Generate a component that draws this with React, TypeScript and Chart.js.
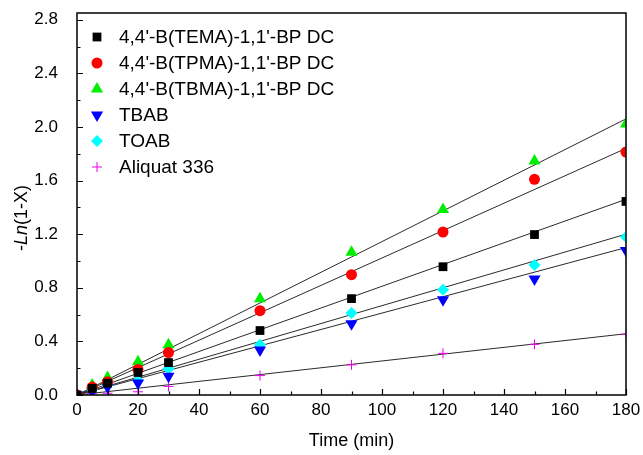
import React, { useEffect, useRef } from "react";
import { Chart, registerables } from "chart.js";

Chart.register(...registerables);

// ---- data ----
const times = [0, 5, 10, 20, 30, 60, 90, 120, 150, 180];
const temaValues = [0, 0.049, 0.088, 0.168, 0.242, 0.481, 0.719, 0.957, 1.197, 1.444];
const tpmaValues = [0, 0.059, 0.098, 0.191, 0.317, 0.629, 0.898, 1.216, 1.609, 1.813];
const tbmaValues = [0, 0.075, 0.131, 0.249, 0.375, 0.719, 1.065, 1.384, 1.746, 2.021];
const tbabValues = [0, 0.029, 0.059, 0.09, 0.139, 0.336, 0.531, 0.711, 0.865, 1.078];
const toabValues = [0, 0.039, 0.075, 0.107, 0.195, 0.375, 0.611, 0.785, 0.969, 1.178];
const aliquatValues = [0, 0.008, 0.013, 0.024, 0.064, 0.145, 0.225, 0.311, 0.378, 0.453];

const fitTimes = [0, 180];
const temaFit = [0, 1.46];
const tpmaFit = [0, 1.84];
const tbmaFit = [0, 2.06];
const tbabFit = [0, 1.1];
const toabFit = [0, 1.2];
const aliquatFit = [0, 0.457];

const seriesLabels = [
  "4,4'-B(TEMA)-1,1'-BP DC",
  "4,4'-B(TPMA)-1,1'-BP DC",
  "4,4'-B(TBMA)-1,1'-BP DC",
  "TBAB",
  "TOAB",
  "Aliquat 336",
];

const xMin = 0;
const xMax = 180;
const xLabelStep = 20;
const xMinorStep = 10;
const yMin = 0;
const yMax = 2.85;
const yLabelStep = 0.4;
const yMinorStep = 0.2;
const yTopTick = 2.8;

const xTitle = "Time (min)";
const yTitleParts = [
  { text: "-", italic: false },
  { text: "Ln", italic: true },
  { text: "(1-X)", italic: false },
];

const FONT = "'Liberation Sans', Arial, Helvetica, sans-serif";

type Style = { color: string; shape: string };
const styles: Style[] = [
  { color: "#000000", shape: "square" },
  { color: "#ff0000", shape: "circle" },
  { color: "#00ee00", shape: "triangle" },
  { color: "#0000ff", shape: "invtriangle" },
  { color: "#00ffff", shape: "diamond" },
  { color: "#ee00ee", shape: "plus" },
];

const pointCfg: Record<string, any> = {
  square: { pointStyle: "rect", pointRadius: 6.2, rotation: 0 },
  circle: { pointStyle: "circle", pointRadius: 5.5, rotation: 0 },
  triangle: { pointStyle: "triangle", pointRadius: 7, rotation: 0 },
  invtriangle: { pointStyle: "triangle", pointRadius: 7, rotation: 180 },
  diamond: { pointStyle: "rectRot", pointRadius: 6, rotation: 0 },
  plus: { pointStyle: "cross", pointRadius: 5, rotation: 0 },
};

function drawMarker(ctx: CanvasRenderingContext2D, shape: string, x: number, y: number, color: string) {
  ctx.save();
  ctx.fillStyle = color;
  ctx.strokeStyle = color;
  ctx.lineWidth = 1;
  ctx.beginPath();
  if (shape === "square") {
    ctx.rect(x - 4.4, y - 4.4, 8.8, 8.8);
    ctx.fill();
  } else if (shape === "circle") {
    ctx.arc(x, y, 5.5, 0, Math.PI * 2);
    ctx.fill();
  } else if (shape === "triangle") {
    ctx.moveTo(x, y - 7);
    ctx.lineTo(x + 6.1, y + 3.5);
    ctx.lineTo(x - 6.1, y + 3.5);
    ctx.closePath();
    ctx.fill();
  } else if (shape === "invtriangle") {
    ctx.moveTo(x, y + 7);
    ctx.lineTo(x + 6.1, y - 3.5);
    ctx.lineTo(x - 6.1, y - 3.5);
    ctx.closePath();
    ctx.fill();
  } else if (shape === "diamond") {
    ctx.moveTo(x, y - 6);
    ctx.lineTo(x + 6, y);
    ctx.lineTo(x, y + 6);
    ctx.lineTo(x - 6, y);
    ctx.closePath();
    ctx.fill();
  } else if (shape === "plus") {
    ctx.moveTo(x - 5, y);
    ctx.lineTo(x + 5, y);
    ctx.moveTo(x, y - 5);
    ctx.lineTo(x, y + 5);
    ctx.stroke();
  }
  ctx.restore();
}

const framePlugin = {
  id: "frameDecor",
  afterDraw(chart: any) {
    const ctx: CanvasRenderingContext2D = chart.ctx;
    const a = chart.chartArea;
    const xs = chart.scales.x;
    const ys = chart.scales.y;
    ctx.save();
    // frame
    ctx.strokeStyle = "#000";
    ctx.lineWidth = 1.5;
    ctx.strokeRect(a.left, a.top, a.right - a.left, a.bottom - a.top);
    // inward ticks
    ctx.lineWidth = 1.2;
    ctx.beginPath();
    for (let v = xMin; v <= xMax + 1e-9; v += xMinorStep) {
      const px = Math.round(xs.getPixelForValue(v)) + 0.5;
      const major = Math.abs(v / xLabelStep - Math.round(v / xLabelStep)) < 1e-6;
      const len = major ? 6 : 3.5;
      ctx.moveTo(px, a.bottom);
      ctx.lineTo(px, a.bottom - len);
    }
    for (let v = yMin; v <= yTopTick + 1e-9; v += yMinorStep) {
      const py = Math.round(ys.getPixelForValue(v)) + 0.5;
      const major = Math.abs(v / yLabelStep - Math.round(v / yLabelStep)) < 1e-6;
      const len = major ? 6 : 3.5;
      ctx.moveTo(a.left, py);
      ctx.lineTo(a.left + len, py);
    }
    ctx.stroke();

    // x title
    ctx.fillStyle = "#000";
    ctx.font = `18px ${FONT}`;
    ctx.textAlign = "center";
    ctx.textBaseline = "middle";
    ctx.fillText(xTitle, (a.left + a.right) / 2, 441);

    // y title with italic part
    ctx.save();
    ctx.translate(22, 218);
    ctx.rotate(-Math.PI / 2);
    ctx.textBaseline = "middle";
    ctx.textAlign = "left";
    let total = 0;
    const widths: number[] = [];
    for (const p of yTitleParts) {
      ctx.font = `${p.italic ? "italic " : ""}18px ${FONT}`;
      const w = ctx.measureText(p.text).width;
      widths.push(w);
      total += w;
    }
    let cx = -total / 2;
    yTitleParts.forEach((p, i) => {
      ctx.font = `${p.italic ? "italic " : ""}18px ${FONT}`;
      ctx.fillText(p.text, cx, 0);
      cx += widths[i];
    });
    ctx.restore();

    // legend
    ctx.font = `19px ${FONT}`;
    ctx.textAlign = "left";
    ctx.textBaseline = "middle";
    seriesLabels.forEach((lab, i) => {
      const py = 37 + i * 26;
      drawMarker(ctx, styles[i].shape, 97, py, styles[i].color);
      ctx.fillStyle = "#000";
      ctx.fillText(lab, 119, py + 1);
    });
    ctx.restore();
  },
};

function zeroPad(s: any) {
  s.paddingTop = 0;
  s.paddingBottom = 0;
  s.paddingLeft = 0;
  s.paddingRight = 0;
}

export default function App() {
  const ref = useRef<HTMLCanvasElement | null>(null);

  useEffect(() => {
    if (!ref.current) return;
    const seriesValues = [temaValues, tpmaValues, tbmaValues, tbabValues, toabValues, aliquatValues];
    const fitValues = [temaFit, tpmaFit, tbmaFit, tbabFit, toabFit, aliquatFit];

    const fitSets = fitValues.map((f, i) => ({
      label: seriesLabels[i] + " fit",
      data: fitTimes.map((t, j) => ({ x: t, y: f[j] })),
      showLine: true,
      borderColor: "#2a2a2a",
      borderWidth: 1,
      pointRadius: 0,
      pointHoverRadius: 0,
      order: 2,
    }));
    const pointSets = seriesValues.map((vals, i) => {
      const cfg = pointCfg[styles[i].shape];
      const isPlus = styles[i].shape === "plus";
      return {
        label: seriesLabels[i],
        data: times.map((t, j) => ({ x: t, y: vals[j] })),
        showLine: false,
        pointStyle: cfg.pointStyle,
        pointRadius: cfg.pointRadius,
        pointRotation: cfg.rotation,
        backgroundColor: styles[i].color,
        borderColor: styles[i].color,
        pointBorderWidth: isPlus ? 1 : 0,
        order: 1,
      };
    });

    const chart = new Chart(ref.current, {
      type: "scatter",
      data: { datasets: [...fitSets, ...pointSets] as any },
      options: {
        animation: false,
        responsive: true,
        maintainAspectRatio: false,
        layout: { padding: { top: 13, right: 17, left: 0, bottom: 0 } },
        plugins: { legend: { display: false }, tooltip: { enabled: false } },
        scales: {
          x: {
            type: "linear",
            min: xMin,
            max: xMax,
            grid: { display: false, drawTicks: false },
            border: { display: false },
            ticks: {
              stepSize: xLabelStep,
              includeBounds: false,
              maxRotation: 0,
              autoSkip: false,
              padding: 5,
              color: "#000",
              font: { family: FONT, size: 17 },
            },
            afterFit: (s: any) => {
              s.height = 60;
              zeroPad(s);
            },
          },
          y: {
            type: "linear",
            min: yMin,
            max: yMax,
            grid: { display: false, drawTicks: false },
            border: { display: false },
            ticks: {
              stepSize: yLabelStep,
              includeBounds: false,
              autoSkip: false,
              padding: 19,
              color: "#000",
              font: { family: FONT, size: 17 },
              callback: (v: any) => Number(v).toFixed(1),
            },
            afterFit: (s: any) => {
              s.width = 77;
              zeroPad(s);
            },
          },
        },
      },
      plugins: [framePlugin],
    });
    return () => chart.destroy();
  }, []);

  return (
    <div style={{ position: "absolute", left: 0, top: 0, width: 643, height: 455, background: "#fff" }}>
      <canvas ref={ref} />
    </div>
  );
}
